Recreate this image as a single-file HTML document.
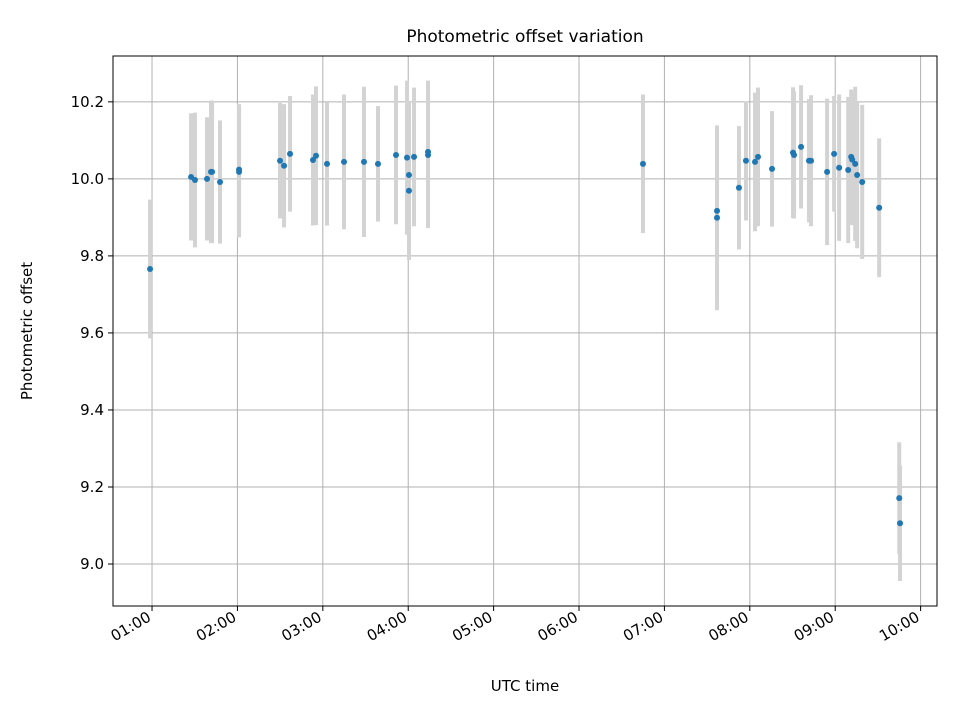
<!DOCTYPE html>
<html><head><meta charset="utf-8"><style>
body{margin:0;background:#fff;font-family:"Liberation Sans","DejaVu Sans",sans-serif}
</style></head><body>
<svg id="chart" width="960" height="720" xmlns="http://www.w3.org/2000/svg" font-family="DejaVu Sans, Liberation Sans, sans-serif"></svg>
<script>
const times=[0.977,1.457,1.503,1.644,1.691,1.703,1.796,2.019,2.019,2.499,2.546,2.616,2.885,2.920,3.049,3.248,3.482,3.646,3.857,3.986,4.009,4.009,4.068,4.232,4.232,6.749,7.616,7.616,7.873,7.955,8.061,8.096,8.260,8.506,8.518,8.600,8.693,8.717,8.905,8.987,9.046,9.152,9.187,9.199,9.234,9.257,9.316,9.515,9.750,9.759];
const offsets=[9.766,10.005,9.997,10.0,10.018,10.018,9.992,10.018,10.024,10.047,10.034,10.065,10.049,10.060,10.039,10.044,10.044,10.039,10.062,10.055,10.010,9.969,10.057,10.062,10.070,10.039,9.917,9.899,9.977,10.047,10.044,10.057,10.026,10.068,10.062,10.083,10.047,10.047,10.018,10.065,10.029,10.023,10.057,10.050,10.039,10.010,9.992,9.925,9.171,9.106];
const errors=[0.18,0.165,0.175,0.16,0.185,0.185,0.16,0.17,0.17,0.15,0.16,0.15,0.17,0.18,0.16,0.175,0.195,0.15,0.18,0.2,0.19,0.18,0.18,0.19,0.185,0.18,0.22,0.24,0.16,0.155,0.18,0.18,0.15,0.17,0.165,0.16,0.16,0.17,0.19,0.15,0.19,0.19,0.175,0.17,0.2,0.19,0.2,0.18,0.145,0.15];
const xTicks=[1,2,3,4,5,6,7,8,9,10];
const xTickLabels=["01:00","02:00","03:00","04:00","05:00","06:00","07:00","08:00","09:00","10:00"];
const yTicks=[9.0,9.2,9.4,9.6,9.8,10.0,10.2];
const yTickLabels=["9.0","9.2","9.4","9.6","9.8","10.0","10.2"];
const L=113,R=937,T=56,B=606,x0=0.543,x1=10.192,y0=8.891,y1=10.319;
const sx=v=>L+(v-x0)/(x1-x0)*(R-L);
const sy=v=>B-(v-y0)/(y1-y0)*(B-T);
const svg=document.getElementById('chart');const NS='http://www.w3.org/2000/svg';
function mk(t,a,p){const e=document.createElementNS(NS,t);for(const k in a)e.setAttribute(k,a[k]);(p||svg).appendChild(e);return e;}
const grid=mk('g',{});


xTicks.forEach((t,i)=>{const x=sx(t);
 mk('line',{x1:x,x2:x,y1:T,y2:B,stroke:'#b0b0b0','stroke-width':1},grid);
 mk('line',{x1:x,x2:x,y1:B,y2:B+5,stroke:'#000','stroke-width':1});
 const tx=mk('text',{x:x,y:B+14,'font-size':15,'text-anchor':'end',transform:`rotate(-30 ${x} ${B+14})`});
 
 
 tx.textContent=xTickLabels[i];});
yTicks.forEach((t,i)=>{const y=sy(t);
 mk('line',{x1:L,x2:R,y1:y,y2:y,stroke:'#b0b0b0','stroke-width':1},grid);
 mk('line',{x1:L-5,x2:L,y1:y,y2:y,stroke:'#000','stroke-width':1});
 const tx=mk('text',{x:L-9,y:y+5,'font-size':15,'text-anchor':'end'});
 
 
 tx.textContent=yTickLabels[i];});
const eb=mk('g',{});


times.forEach((t,i)=>{const l=mk('line',{x1:sx(t),x2:sx(t),y1:sy(offsets[i]-errors[i]),y2:sy(offsets[i]+errors[i]),stroke:'#d3d3d3','stroke-width':4},eb);
 
 });
const pts=mk('g',{});


times.forEach((t,i)=>{const c=mk('circle',{cx:sx(t),cy:sy(offsets[i]),r:3,fill:'#1f77b4'},pts);
 
 });
const fr=mk('rect',{x:L,y:T,width:R-L,height:B-T,fill:'none',stroke:'#000','stroke-width':1});


const ti=mk('text',{x:(L+R)/2,y:42,'font-size':17,'text-anchor':'middle'});


ti.textContent='Photometric offset variation';
const xl=mk('text',{x:(L+R)/2,y:691,'font-size':15,'text-anchor':'middle'});


xl.textContent='UTC time';
const yl=mk('text',{x:32,y:331,'font-size':15,'text-anchor':'middle',transform:'rotate(-90 32 331)'});


yl.textContent='Photometric offset';
</script>
</body></html>
